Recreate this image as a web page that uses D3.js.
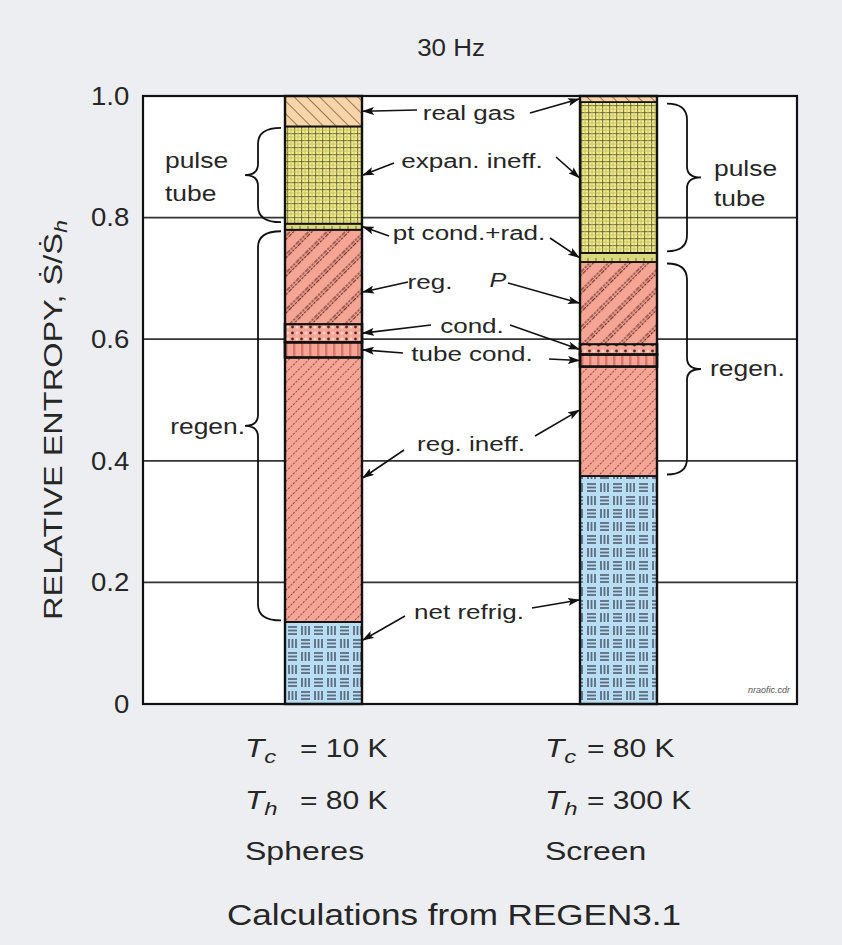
<!DOCTYPE html>
<html>
<head>
<meta charset="utf-8">
<script src="https://cdn.jsdelivr.net/npm/d3@7"></script>
<style>
  html, body { margin: 0; padding: 0; background: #eceef1; }
  svg { display: block; font-family: "Liberation Sans", Arial, Helvetica, sans-serif; }
</style>
</head>
<body>
<svg id="chart" width="842" height="945"></svg>
<script>
// ---- data ----
const categories = ["Spheres", "Screen"];
const coldTemps = ["10 K", "80 K"];
const hotTemps = ["80 K", "300 K"];
// entropy contributions, stacked from the bottom up
const segments = ["net refrig.", "reg. ineff.", "tube cond.", "cond.", "reg. P", "pt cond.+rad.", "expan. ineff.", "real gas"];
const spheresValues = [0.135, 0.435, 0.025, 0.030, 0.155, 0.010, 0.160, 0.050];
const screenValues  = [0.375, 0.180, 0.020, 0.017, 0.135, 0.015, 0.248, 0.010];
const yTicks = [0, 0.2, 0.4, 0.6, 0.8, 1.0];
// bracketed groups of segments
const groupNames = ["pulse tube", "regen."];
const groupFirst = ["expan. ineff.", "reg. ineff."];
const groupLast  = ["expan. ineff.", "reg. P"];

// ---- layout ----
const svg = d3.select("#chart");
const plot = { left: 143, right: 797, top: 96, bottom: 704 };
const barW = 77;
const ink = "#262626";

const x = d3.scalePoint().domain(categories).range([323.5, 618.5]);
const y = d3.scaleLinear().domain([0, 1]).range([plot.bottom, plot.top]);

const table = categories.map((c, i) => {
  const vals = [spheresValues, screenValues][i];
  const row = { category: c };
  segments.forEach((s, j) => row[s] = vals[j]);
  return row;
});
const stacked = d3.stack().keys(segments)(table);
const span = (seg, ci) => stacked[segments.indexOf(seg)][ci];

// ---- patterns ----
const defs = svg.append("defs");
const salmon = "#f5a595";

function pattern(id, w, h, bg, transform) {
  const p = defs.append("pattern").attr("id", id)
    .attr("patternUnits", "userSpaceOnUse").attr("width", w).attr("height", h);
  if (transform) p.attr("patternTransform", transform);
  p.append("rect").attr("width", w).attr("height", h).attr("fill", bg);
  return p;
}

// real gas: peach with back-slanted hatch
pattern("pRealGas", 9, 9, "#f8d5a9", "rotate(-45)")
  .append("line").attr("x1", 4.5).attr("x2", 4.5).attr("y1", 0).attr("y2", 9)
  .attr("stroke", "#9a7650").attr("stroke-width", 1);

// expansion inefficiency: yellow plaid
{
  const p = pattern("pExpan", 7, 7, "#f1ec8e");
  p.append("line").attr("x1", 0).attr("x2", 7).attr("y1", 0.6).attr("y2", 0.6)
    .attr("stroke", "#56522a").attr("stroke-width", 1.2).attr("opacity", 0.7);
  p.append("line").attr("x1", 0.6).attr("x2", 0.6).attr("y1", 0).attr("y2", 7)
    .attr("stroke", "#56522a").attr("stroke-width", 1.2).attr("opacity", 0.7);
  p.append("line").attr("x1", 0).attr("x2", 7).attr("y1", 4).attr("y2", 4)
    .attr("stroke", "#c2bc62").attr("stroke-width", 0.8);
  p.append("line").attr("x1", 4).attr("x2", 4).attr("y1", 0).attr("y2", 7)
    .attr("stroke", "#c2bc62").attr("stroke-width", 0.8);
}

// pulse-tube conduction + radiation: olive with short ticks
pattern("pPtCond", 8, 8, "#dcd87e")
  .append("line").attr("x1", 4).attr("x2", 4).attr("y1", 2).attr("y2", 6)
  .attr("stroke", "#6e6a30").attr("stroke-width", 1);

// regenerator pressure drop: salmon with wide doubled hatch
{
  const p = pattern("pRegP", 13, 13, salmon, "rotate(45)");
  [5, 7.5].forEach(cx => p.append("line").attr("x1", cx).attr("x2", cx).attr("y1", 0).attr("y2", 13)
    .attr("stroke", "#6e3228").attr("stroke-width", 1.2).attr("stroke-dasharray", "2.5,1.2"));
}

// regenerator inefficiency: salmon with fine hatch
pattern("pRegIneff", 7, 7, salmon, "rotate(45)")
  .append("line").attr("x1", 3.5).attr("x2", 3.5).attr("y1", 0).attr("y2", 7)
  .attr("stroke", "#84402f").attr("stroke-width", 0.9).attr("stroke-dasharray", "2,1.4");

// conduction: salmon with dots
{
  const p = pattern("pCond", 9, 6, salmon);
  p.append("circle").attr("cx", 4.5).attr("cy", 3).attr("r", 1.4).attr("fill", "#5a2a22");
  p.append("circle").attr("cx", 0).attr("cy", 3).attr("r", 1.6).attr("fill", "#fbd2c8");
  p.append("circle").attr("cx", 9).attr("cy", 3).attr("r", 1.6).attr("fill", "#fbd2c8");
}

// tube conduction: salmon with vertical stripes
pattern("pTubeCond", 8, 8, salmon)
  .append("rect").attr("x", 5).attr("width", 2.5).attr("height", 8).attr("fill", "#d9786a");

// net refrigeration: light blue basket weave
{
  const c = 13;
  const p = pattern("pNet", 2 * c, 2 * c, "#b9ddf2");
  const dash = "#5b6d80";
  const offs = [3, 6.5, 10];
  const horiz = (ox, oy) => offs.forEach(d =>
    p.append("line").attr("x1", ox + 2).attr("x2", ox + c - 2).attr("y1", oy + d).attr("y2", oy + d)
      .attr("stroke", dash).attr("stroke-width", 1.8));
  const vert = (ox, oy) => offs.forEach(d =>
    p.append("line").attr("y1", oy + 2).attr("y2", oy + c - 2).attr("x1", ox + d).attr("x2", ox + d)
      .attr("stroke", dash).attr("stroke-width", 1.8));
  horiz(0, 0); vert(c, 0); vert(0, c); horiz(c, c);
}

const fills = {
  "net refrig.": "url(#pNet)",
  "reg. ineff.": "url(#pRegIneff)",
  "tube cond.": "url(#pTubeCond)",
  "cond.": "url(#pCond)",
  "reg. P": "url(#pRegP)",
  "pt cond.+rad.": "url(#pPtCond)",
  "expan. ineff.": "url(#pExpan)",
  "real gas": "url(#pRealGas)"
};

// arrowhead marker
defs.append("marker").attr("id", "arrow")
  .attr("markerUnits", "userSpaceOnUse").attr("markerWidth", 12).attr("markerHeight", 8)
  .attr("refX", 11).attr("refY", 4).attr("orient", "auto")
  .append("path").attr("d", "M0,0 L12,4 L0,8 L2.5,4 Z").attr("fill", "#111");

// ---- text helper (glyphs widened along the reading direction) ----
function label(parent, px, py, str, size, sx, anchor) {
  return parent.append("text")
    .attr("transform", `translate(${px},${py}) scale(${sx},1)`)
    .attr("text-anchor", anchor || "middle")
    .attr("font-size", size).attr("fill", ink)
    .text(str);
}

// ---- plot area ----
svg.append("rect")
  .attr("x", plot.left).attr("y", plot.top)
  .attr("width", plot.right - plot.left).attr("height", plot.bottom - plot.top)
  .attr("fill", "#fff");

// gridlines
svg.append("g").selectAll("line").data(yTicks.filter(t => t > 0 && t < 1)).join("line")
  .attr("x1", plot.left).attr("x2", plot.right)
  .attr("y1", d => y(d)).attr("y2", d => y(d))
  .attr("stroke", "#333").attr("stroke-width", 1.7);

// y axis labels
const yAxis = svg.append("g").attr("transform", `translate(${plot.left},0)`)
  .call(d3.axisLeft(y).tickValues(yTicks)
    .tickFormat(d => d === 0 ? "0" : d3.format(".1f")(d))
    .tickSize(0).tickPadding(13));
yAxis.select(".domain").remove();
yAxis.selectAll("text")
  .attr("font-size", 26).attr("font-family", "Liberation Sans, Arial, sans-serif")
  .attr("fill", ink).attr("transform", "scale(1.06,1)");

// stacked bars
const bars = svg.append("g");
stacked.forEach(layer => {
  bars.append("g").selectAll("rect").data(layer).join("rect")
    .attr("x", d => x(d.data.category) - barW / 2)
    .attr("width", barW)
    .attr("y", d => y(d[1]))
    .attr("height", d => y(d[0]) - y(d[1]))
    .attr("fill", fills[layer.key])
    .attr("stroke", "#111")
    .attr("stroke-width", (layer.key === "cond." || layer.key === "tube cond.") ? 2.6 : 1.8);
});
// bar outlines
bars.selectAll("rect.outline").data(categories).join("rect").attr("class", "outline")
  .attr("x", d => x(d) - barW / 2).attr("width", barW)
  .attr("y", y(1)).attr("height", y(0) - y(1))
  .attr("fill", "none").attr("stroke", "#111").attr("stroke-width", 2.4);

// plot frame
svg.append("rect")
  .attr("x", plot.left).attr("y", plot.top)
  .attr("width", plot.right - plot.left).attr("height", plot.bottom - plot.top)
  .attr("fill", "none").attr("stroke", "#111").attr("stroke-width", 2.2);

// ---- segment call-outs between the bars ----
const notes = [
  { seg: "real gas",      tx: 469, ty: 120, L: { from: [417, 110], at: 0.5 },  R: { from: [530, 113], at: 0.5 } },
  { seg: "expan. ineff.", tx: 472, ty: 168, L: { from: [394, 163], at: 0.5 },  R: { from: [556, 157], at: 0.5 } },
  { seg: "pt cond.+rad.", tx: 469, ty: 240, L: { from: [389, 236], at: 0.5 },  R: { from: [550, 238], at: 0.5 } },
  { seg: "reg. P",        tx: 430, ty: 289, L: { from: [408, 282], at: 0.34 }, R: { from: [508, 283], at: 0.5 }, text: "reg." },
  { seg: "cond.",         tx: 472, ty: 333, L: { from: [431, 325], at: 0.5 },  R: { from: [510, 325], at: 0.5 } },
  { seg: "tube cond.",    tx: 472, ty: 361, L: { from: [403, 353], at: 0.5 },  R: { from: [549, 359], at: 0.5 } },
  { seg: "reg. ineff.",   tx: 471, ty: 451, L: { from: [404, 450], at: 0.545 },R: { from: [535, 436], at: 0.6 } },
  { seg: "net refrig.",   tx: 469, ty: 619, L: { from: [405, 616], at: 0.78 }, R: { from: [532, 608], at: 0.456 } }
];
const notesG = svg.append("g");
notes.forEach(n => {
  label(notesG, n.tx, n.ty, n.text || n.seg, 21, 1.24, "middle");
  [["L", 0, x(categories[0]) + barW / 2], ["R", 1, x(categories[1]) - barW / 2]].forEach(([side, ci, bx]) => {
    const s = span(n.seg, ci);
    const ty = y(s[0] + n[side].at * (s[1] - s[0]));
    notesG.append("line")
      .attr("x1", n[side].from[0]).attr("y1", n[side].from[1])
      .attr("x2", bx + (side === "L" ? 1 : -1)).attr("y2", ty)
      .attr("stroke", "#111").attr("stroke-width", 1.6)
      .attr("marker-end", "url(#arrow)");
  });
});
// italic P next to "reg."
label(notesG, 498, 287, "P", 21, 1.2, "middle").attr("font-style", "italic");

// ---- braces ----
function bracePath(xv, xEnd, xTip, yTop, yBot) {
  const r = Math.min(16, (yBot - yTop) / 4);
  const ym = (yTop + yBot) / 2;
  const t = 11;
  return `M${xEnd},${yTop} Q${xv},${yTop} ${xv},${yTop + r} L${xv},${ym - t} ` +
         `Q${xv},${ym} ${xTip},${ym} Q${xv},${ym} ${xv},${ym + t} ` +
         `L${xv},${yBot - r} Q${xv},${yBot} ${xEnd},${yBot}`;
}
const braceG = svg.append("g");
const braceSides = [
  { ci: 0, xv: 258, xEnd: 281, xTip: 245 },
  { ci: 1, xv: 687, xEnd: 667, xTip: 701 }
];
const braceMids = {};
braceSides.forEach(b => {
  groupNames.forEach((g, gi) => {
    const yTop = y(span(groupLast[gi], b.ci)[1]) + 1.5;
    const yBot = y(span(groupFirst[gi], b.ci)[0]) - 1.5;
    braceMids[b.ci + g] = (yTop + yBot) / 2;
    braceG.append("path").attr("d", bracePath(b.xv, b.xEnd, b.xTip, yTop, yBot))
      .attr("fill", "none").attr("stroke", "#111").attr("stroke-width", 1.8);
  });
});
// brace labels
label(braceG, 165, 168, "pulse", 22, 1.2, "start");
label(braceG, 165, 201, "tube", 22, 1.2, "start");
label(braceG, 245, braceMids["0regen."] + 8, "regen.", 22, 1.2, "end");
label(braceG, 714, 176, "pulse", 22, 1.2, "start");
label(braceG, 714, 206, "tube", 22, 1.2, "start");
label(braceG, 710, braceMids["1regen."] + 7, "regen.", 22, 1.2, "start");

// ---- titles ----
label(svg, 451, 56, "30 Hz", 24, 1.08, "middle");

const yTitle = svg.append("text")
  .attr("transform", "translate(62,420) rotate(-90) scale(1.3,1)")
  .attr("text-anchor", "middle").attr("font-size", 25).attr("fill", ink);
yTitle.append("tspan").text("RELATIVE  ENTROPY, \u1E60/\u1E60");
yTitle.append("tspan").attr("font-style", "italic").attr("font-size", 18).attr("dy", 5).text("h");

// category annotations under the bars
const catG = svg.append("g");
const colX = [245, 545];      // left edge of each text column
const eqX = [300, 587];       // where "= value" starts
categories.forEach((c, i) => {
  const lx = colX[i];
  [[757, "c", coldTemps[i]], [809, "h", hotTemps[i]]].forEach(([ly, sub, val]) => {
    const t = catG.append("text").attr("transform", `translate(${lx},${ly}) scale(1.26,1)`)
      .attr("font-size", 25).attr("fill", ink);
    t.append("tspan").attr("font-style", "italic").text("T");
    t.append("tspan").attr("font-style", "italic").attr("font-size", 19).attr("dy", 6).text(sub);
    label(catG, eqX[i], ly, "= " + val, 25, 1.2, "start");
  });
  label(catG, lx, 860, c, 25, 1.28, "start");
});

label(svg, 454, 925, "Calculations from REGEN3.1", 30, 1.17, "middle");

// drawing file tag
label(svg, 790, 693, "nraofic.cdr", 9, 1, "end").attr("font-style", "italic").attr("fill", "#555");
</script>
</body>
</html>
